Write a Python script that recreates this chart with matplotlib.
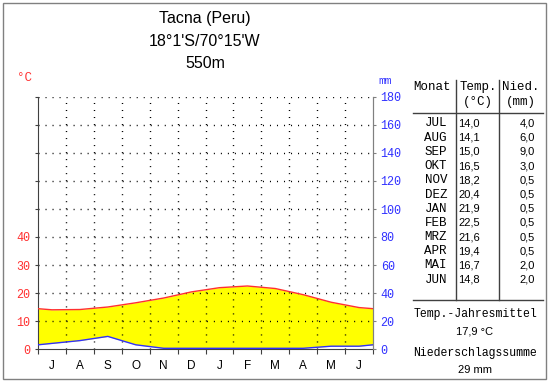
import numpy as np
import matplotlib.pyplot as plt
from matplotlib.patches import Rectangle

# climate data, Tacna (Peru), Jul..Jun
months = ['J', 'A', 'S', 'O', 'N', 'D', 'J', 'F', 'M', 'A', 'M', 'J']
month_names = ['JUL', 'AUG', 'SEP', 'OKT', 'NOV', 'DEZ',
               'JAN', 'FEB', 'MRZ', 'APR', 'MAI', 'JUN']
temp = [14.0, 14.1, 15.0, 16.5, 18.2, 20.4, 21.9, 22.5, 21.6, 19.4, 16.7, 14.8]
precip = [4.0, 6.0, 9.0, 3.0, 0.5, 0.5, 0.5, 0.5, 0.5, 0.5, 2.0, 2.0]
title_lines = ['Tacna (Peru)', "18°1'S/70°15'W", '550m']

W, H = 550, 384
RED = '#ff3030'
BLUE = '#3030ff'


def px(x, y):
    return x / W, 1 - y / H


fig = plt.figure(figsize=(W / 100, H / 100), dpi=100)
fig.patch.set_facecolor('white')

# outer frame
fig.patches.append(Rectangle(px(3, 379), 543 / W, 376 / H, transform=fig.transFigure,
                             fill=False, edgecolor='#808080', linewidth=1))

ax = fig.add_axes([38 / W, 1 - 349 / H, 335 / W, 252 / H])
ax.set_xlim(0, 12)
ax.set_ylim(0, 90)

# curves at month centres, closed at the edges with Jun/Jul mean
x = np.concatenate([[0], np.arange(12) + 0.5, [12]])
t = np.array(temp)
p = np.array(precip) / 2.0  # 10 degC = 20 mm
t_edge = (t[0] + t[-1]) / 2
p_edge = (p[0] + p[-1]) / 2
t_line = np.concatenate([[t_edge], t, [t_edge]])
p_line = np.concatenate([[p_edge], p, [p_edge]])

ax.fill_between(x, p_line, t_line, color='#ffff00', linewidth=0, zorder=1)
ax.plot(x, t_line, color=RED, linewidth=1, zorder=3)
ax.plot(x, p_line, color=BLUE, linewidth=1, zorder=3)

# dotted grid, small dots every 7 px
dot = dict(color='black', linewidth=1, dashes=(0.75, 4.3), zorder=2)
for yy in range(10, 91, 10):
    ax.axhline(yy, **dot)
for xx in range(1, 12):
    ax.axvline(xx, **dot)

ax.spines['top'].set_visible(False)
ax.spines['left'].set_color('#404040')
ax.spines['bottom'].set_color('#404040')
ax.spines['right'].set_color('#808080')

ax.set_xticks(range(13))
ax.set_xticklabels([])
ax.set_xticks(np.arange(12) + 0.5, minor=True)
ax.set_xticklabels(months, minor=True, fontsize=8.5, family='Liberation Sans')
ax.tick_params(axis='x', which='major', length=3.5, color='#404040')
ax.tick_params(axis='x', which='minor', length=0, pad=8)

ax.set_yticks(range(0, 91, 10))
ax.set_yticklabels([str(v) if v <= 40 else '' for v in range(0, 91, 10)],
                   color=RED, fontsize=8.5, family='Liberation Mono')
ax.tick_params(axis='y', length=2.5, color='#404040', pad=3)

ax2 = ax.twinx()
ax2.set_ylim(0, 180)
ax2.set_yticks(range(0, 181, 20))
ax2.set_yticklabels([str(v) for v in range(0, 181, 20)],
                    color=BLUE, fontsize=8.5, family='Liberation Mono')
ax2.tick_params(axis='y', length=2.5, color='#808080', pad=3)
for s in ['top', 'left', 'bottom']:
    ax2.spines[s].set_visible(False)
ax2.spines['right'].set_color('#808080')

fig.text(*px(24, 78), '°C', color=RED, fontsize=9, family='Liberation Mono',
         ha='center', va='center')
fig.text(*px(385, 81), 'mm', color=BLUE, fontsize=8, family='Liberation Mono',
         ha='center', va='center')

# title
for i, line in enumerate(title_lines):
    fig.text(*px(205, 19 + i * 22.5), line, fontsize=11.5, family='Liberation Sans',
             ha='center', va='center')

# table
mono = dict(family='Liberation Mono', fontsize=9, va='center')
sans = dict(family='Liberation Sans', fontsize=8, va='center')
fig.text(*px(432, 87), 'Monat', ha='center', **mono)
fig.text(*px(478, 87), 'Temp.', ha='center', **mono)
fig.text(*px(478, 102), '(°C)', ha='center', **mono)
fig.text(*px(521, 87), 'Nied.', ha='center', **mono)
fig.text(*px(521, 102), '(mm)', ha='center', **mono)

fig.add_artist(plt.Line2D([413 / W, 543 / W], [1 - 113 / H] * 2, color='#404040', linewidth=1))
fig.add_artist(plt.Line2D([413 / W, 543 / W], [1 - 300 / H] * 2, color='#404040', linewidth=1))
for sx in [456, 499]:
    fig.add_artist(plt.Line2D([sx / W] * 2, [1 - 80 / H, 1 - 300 / H],
                              color='#404040', linewidth=1))

for i, name in enumerate(month_names):
    yy = 123.5 + i * 14.2
    fig.text(*px(447, yy), name, ha='right', **mono)
    fig.text(*px(480, yy), f'{temp[i]:.1f}'.replace('.', ','), ha='right', **sans)
    fig.text(*px(535, yy), f'{precip[i]:.1f}'.replace('.', ','), ha='right', **sans)

mean_t = sum(temp) / len(temp)
total_p = int(sum(precip) + 0.5)
foot = dict(mono, fontsize=8.3)
fig.text(*px(475, 314), 'Temp.-Jahresmittel', ha='center', **foot)
fig.text(*px(475, 332), f'{mean_t:.1f} °C'.replace('.', ','), ha='center', **sans)
fig.text(*px(475, 353), 'Niederschlagssumme', ha='center', **foot)
fig.text(*px(475, 370), f'{total_p} mm', ha='center', **sans)

fig.savefig('out.png', dpi=100)
